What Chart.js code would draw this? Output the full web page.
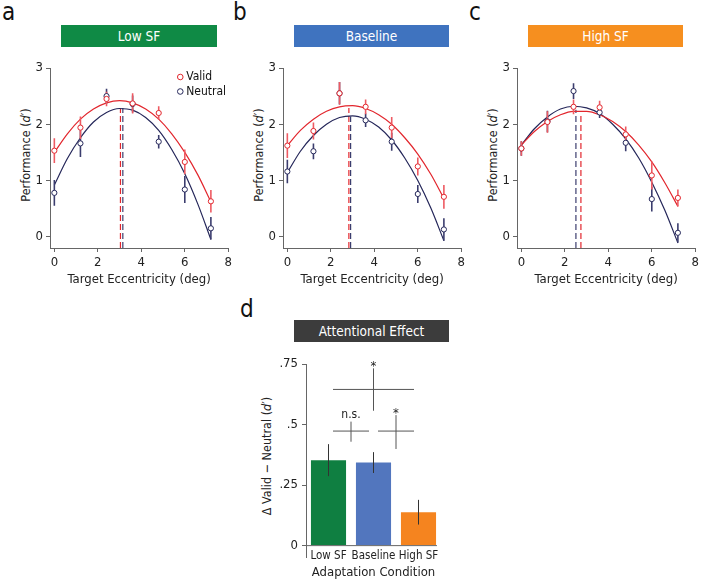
<!DOCTYPE html>
<html><head><meta charset="utf-8">
<script src="https://cdn.jsdelivr.net/npm/chart.js@4.4.1/dist/chart.umd.min.js"></script>
<style>
html,body{margin:0;padding:0;background:#fff;}
body{width:702px;height:580px;position:relative;overflow:hidden;font-family:'DejaVu Sans Condensed','DejaVu Sans',sans-serif;color:#222;}
canvas{position:absolute;}
.letter{position:absolute;font-size:24px;line-height:24px;color:#111;}
.hdr{position:absolute;height:22px;line-height:22px;color:#fff;text-align:center;font-size:13.5px;}
.ytitle{position:absolute;white-space:nowrap;font-size:12.5px;color:#222;transform:translate(-50%,-50%) rotate(-90deg);}
</style></head><body>
<div class="letter" style="left:2px;top:0px;">a</div>
<div class="letter" style="left:233px;top:0px;">b</div>
<div class="letter" style="left:469px;top:0px;">c</div>
<div class="letter" style="left:240px;top:297px;">d</div>
<div class="hdr" style="left:61px;top:25px;width:156px;background:#0f8a45;">Low SF</div>
<div class="hdr" style="left:294px;top:25px;width:155px;background:#3f73bf;">Baseline</div>
<div class="hdr" style="left:528px;top:25px;width:155px;background:#f68f1f;">High SF</div>
<div class="hdr" style="left:294px;top:320px;width:155px;background:#3c3c3c;">Attentional Effect</div>
<div class="ytitle" style="left:25px;top:155px;">Performance (<i>d</i>′)</div>
<div class="ytitle" style="left:258px;top:155px;">Performance (<i>d</i>′)</div>
<div class="ytitle" style="left:492px;top:155px;">Performance (<i>d</i>′)</div>
<div class="ytitle" style="left:266px;top:456px;">Δ Valid − Neutral (<i>d</i>′)</div>
<canvas id="ca" width="235" height="236" style="left:0px;top:55px;"></canvas>
<canvas id="cb" width="235" height="236" style="left:233px;top:55px;"></canvas>
<canvas id="cc" width="235" height="236" style="left:467px;top:55px;"></canvas>
<canvas id="cd" width="210" height="230" style="left:240px;top:350px;"></canvas>
<script>
// ---------- DATA ----------
const ECC = [0, 1.2, 2.4, 3.6, 4.8, 6, 7.2];
const FIT_X = [0, 0.6, 1.2, 1.8, 2.4, 3.0, 3.6, 4.2, 4.8, 5.4, 6.0, 6.6, 7.2];
const X_TICKS = [0, 2, 4, 6, 8];
const Y_TICKS = [0, 1, 2, 3];
const SERIES = ['Valid', 'Neutral'];

// Panel a: Low SF
const lowValid      = [1.53, 1.94, 2.45, 2.37, 2.20, 1.33, 0.63];
const lowValidErr   = [0.22, 0.20, 0.13, 0.18, 0.12, 0.22, 0.20];
const lowNeutral    = [0.78, 1.66, 2.50, 2.36, 1.69, 0.84, 0.15];
const lowNeutralErr = [0.23, 0.24, 0.13, 0.15, 0.12, 0.24, 0.20];
const lowValidFit   = [1.50, 1.83, 2.09, 2.27, 2.38, 2.42, 2.38, 2.27, 2.09, 1.83, 1.50, 1.10, 0.62];
const lowNeutralFit = [0.92, 1.39, 1.76, 2.04, 2.21, 2.28, 2.25, 2.12, 1.89, 1.55, 1.12, 0.58, -0.05];
const lowPeakX = [3.04, 3.15];
const lowPeakY = [2.27, 2.29];

// Panel b: Baseline
const baseValid      = [1.62, 1.88, 2.55, 2.31, 1.94, 1.25, 0.71];
const baseValidErr   = [0.22, 0.15, 0.20, 0.13, 0.19, 0.16, 0.21];
const baseNeutral    = [1.16, 1.52, 2.55, 2.07, 1.69, 0.76, 0.13];
const baseNeutralErr = [0.21, 0.14, 0.20, 0.12, 0.16, 0.16, 0.20];
const baseValidFit   = [1.62, 1.89, 2.09, 2.23, 2.31, 2.33, 2.28, 2.17, 2.00, 1.76, 1.47, 1.11, 0.68];
const baseNeutralFit = [1.14, 1.52, 1.80, 2.00, 2.12, 2.15, 2.09, 1.95, 1.72, 1.40, 1.00, 0.51, -0.07];
const basePeakX = [2.83, 2.91];
const basePeakY = [2.29, 2.14];

// Panel c: High SF
const highValid      = [1.57, 2.04, 2.31, 2.30, 1.82, 1.09, 0.69];
const highValidErr   = [0.13, 0.19, 0.13, 0.12, 0.14, 0.25, 0.15];
const highNeutral    = [1.57, 2.05, 2.59, 2.21, 1.67, 0.67, 0.07];
const highNeutralErr = [0.13, 0.19, 0.14, 0.10, 0.15, 0.22, 0.17];
const highValidFit   = [1.63, 1.87, 2.05, 2.17, 2.23, 2.23, 2.17, 2.05, 1.87, 1.63, 1.33, 0.96, 0.54];
const highNeutralFit = [1.63, 1.92, 2.13, 2.27, 2.32, 2.29, 2.19, 2.00, 1.74, 1.40, 0.97, 0.47, -0.11];
const highPeakX = [2.74, 2.51];
const highPeakY = [2.20, 2.26];

// Panel d: Attentional effect
const conditions = ['Low SF', 'Baseline', 'High SF'];
const condIndex  = [0, 1, 2];
const effect     = [0.353, 0.343, 0.138];
const effectErr  = [0.066, 0.043, 0.051];
const D_Y_TICKS  = [0, 0.25, 0.5, 0.75];
const D_Y_LABELS = ['0', '.25', '.5', '.75'];
const sigFrom  = [0.1, 1.1, 0.1];
const sigTo    = [0.9, 1.9, 1.9];
const sigMid   = [0.5, 1.5, 1.0];
const sigLevel = [0.473, 0.473, 0.645];
const sigLo    = [0.429, 0.399, 0.557];
const sigHi    = [0.512, 0.539, 0.732];
const sigLabel = ['n.s.', '*', '*'];
const zeroLineX = [-0.5, 2.41];

// ---------- STYLE ----------
const FONT = "'DejaVu Sans Condensed','DejaVu Sans',sans-serif";
const RED = '#e2262d', NAVY = '#25275a', RED_ERR = '#ee5a62', NAVY_ERR = '#3b3d6e', AXIS = '#666';
const BAR_COLORS = ['#0f7f41', '#5276be', '#f5841f'];

Chart.defaults.font.family = FONT;
Chart.defaults.color = '#222';
Chart.defaults.animation = false;
Chart.defaults.plugins.legend.display = false;
Chart.defaults.plugins.tooltip.enabled = false;

function xy(xs, ys) { return xs.map((x, i) => ({x: x, y: ys[i]})); }
function errSegments(xs, vals, errs) {
  const out = [];
  xs.forEach((x, i) => { out.push({x: x, y: vals[i] - errs[i]}, {x: x, y: vals[i] + errs[i]}, {x: x, y: null}); });
  return out;
}
function vSegments(xs, lo, hi) {
  const out = [];
  xs.forEach((x, i) => { out.push({x: x, y: lo[i]}, {x: x, y: hi[i]}, {x: x, y: null}); });
  return out;
}
function hSegments(from, to, ys) {
  const out = [];
  ys.forEach((y, i) => { out.push({x: from[i], y: y}, {x: to[i], y: y}, {x: to[i], y: null}); });
  return out;
}

const Y_MIN = -0.2;

const legendPlugin = {
  id: 'innerLegend',
  afterDatasetsDraw(chart) {
    const ctx = chart.ctx, a = chart.chartArea;
    const cols = [RED, NAVY];
    ctx.save();
    ctx.font = '12px ' + FONT;
    ctx.textBaseline = 'middle';
    SERIES.forEach((t, i) => {
      const cx = a.right - 48, cy = a.top + 9 + i * 14.5;
      ctx.beginPath(); ctx.arc(cx, cy, 2.8, 0, Math.PI * 2);
      ctx.strokeStyle = cols[i]; ctx.lineWidth = 1; ctx.stroke();
      ctx.fillStyle = '#111'; ctx.fillText(t, cx + 6, cy);
    });
    ctx.restore();
  }
};

function axisCommon() {
  return {
    grid: {display: true, drawOnChartArea: false, drawTicks: true, tickLength: 4, color: AXIS},
    border: {display: true, color: AXIS, width: 1}
  };
}

function curvePanel(id, d, withLegend) {
  const ptStyle = (c) => ({showLine: false, pointRadius: 2.6, pointBorderColor: c, pointBackgroundColor: '#fff', pointBorderWidth: 1, borderColor: c, order: 0});
  const datasets = [
    Object.assign({data: xy(ECC, d.valid)}, ptStyle(RED)),
    Object.assign({data: xy(ECC, d.neutral)}, ptStyle(NAVY)),
    {data: errSegments(ECC, d.valid, d.validErr), borderColor: RED_ERR, borderWidth: 1.6, pointRadius: 0, spanGaps: false, order: 1},
    {data: errSegments(ECC, d.neutral, d.neutralErr), borderColor: NAVY_ERR, borderWidth: 1.6, pointRadius: 0, spanGaps: false, order: 1},
    {data: xy(FIT_X, d.validFit), borderColor: RED, borderWidth: 1.2, pointRadius: 0, cubicInterpolationMode: 'monotone', order: 2},
    {data: xy(FIT_X, d.neutralFit), borderColor: NAVY, borderWidth: 1.2, pointRadius: 0, cubicInterpolationMode: 'monotone', order: 2},
    {data: [{x: d.peakX[0], y: Y_MIN}, {x: d.peakX[0], y: d.peakY[0]}], borderColor: RED, borderDash: [6, 3], borderWidth: 1.2, pointRadius: 0, order: 3},
    {data: [{x: d.peakX[1], y: Y_MIN}, {x: d.peakX[1], y: d.peakY[1]}], borderColor: NAVY_ERR, borderDash: [6, 3], borderWidth: 1.2, pointRadius: 0, order: 3}
  ];
  new Chart(document.getElementById(id), {
    type: 'line',
    data: {datasets: datasets},
    plugins: withLegend ? [legendPlugin] : [],
    options: {
      responsive: false, devicePixelRatio: 1,
      layout: {padding: {top: 13, right: 6, left: 0, bottom: 0}},
      elements: {line: {fill: false}},
      scales: {
        x: Object.assign(axisCommon(), {
          type: 'linear', min: -0.2, max: 8,
          afterBuildTicks: s => { s.ticks = X_TICKS.map(v => ({value: v})); },
          afterFit: s => { s.height = 43; },
          ticks: {font: {size: 13}, padding: 3, color: '#222', maxRotation: 0, autoSkip: false},
          title: {display: true, text: 'Target Eccentricity (deg)', font: {size: 13}, color: '#222', padding: {top: 0, bottom: 4}}
        }),
        y: Object.assign(axisCommon(), {
          type: 'linear', min: Y_MIN, max: 3,
          afterBuildTicks: s => { s.ticks = Y_TICKS.map(v => ({value: v})); },
          afterFit: s => { s.width = 50; },
          ticks: {font: {size: 13}, padding: 3, color: '#222'}
        })
      }
    }
  });
}

curvePanel('ca', {valid: lowValid, validErr: lowValidErr, neutral: lowNeutral, neutralErr: lowNeutralErr,
  validFit: lowValidFit, neutralFit: lowNeutralFit, peakX: lowPeakX, peakY: lowPeakY}, true);
curvePanel('cb', {valid: baseValid, validErr: baseValidErr, neutral: baseNeutral, neutralErr: baseNeutralErr,
  validFit: baseValidFit, neutralFit: baseNeutralFit, peakX: basePeakX, peakY: basePeakY}, false);
curvePanel('cc', {valid: highValid, validErr: highValidErr, neutral: highNeutral, neutralErr: highNeutralErr,
  validFit: highValidFit, neutralFit: highNeutralFit, peakX: highPeakX, peakY: highPeakY}, false);

const sigPlugin = {
  id: 'sigLabels',
  afterDatasetsDraw(chart) {
    const x = chart.scales.x, y = chart.scales.y, ctx = chart.ctx;
    ctx.save();
    ctx.textAlign = 'center';
    ctx.textBaseline = 'alphabetic';
    ctx.fillStyle = '#222';
    sigLabel.forEach((t, i) => {
      const px = x.getPixelForValue(sigMid[i]);
      const top = y.getPixelForValue(sigHi[i]);
      const star = t === '*';
      ctx.font = (star ? '13px ' : '12px ') + FONT;
      ctx.fillText(t, px, star ? top + 2 : top - 4);
    });
    ctx.restore();
  }
};

new Chart(document.getElementById('cd'), {
  type: 'bar',
  data: {
    datasets: [
      {type: 'bar', data: xy(condIndex, effect), backgroundColor: BAR_COLORS, barPercentage: 0.78, categoryPercentage: 1, order: 4},
      {type: 'line', data: xy(zeroLineX, [0, 0]), borderColor: AXIS, borderWidth: 1, pointRadius: 0, order: 3},
      {type: 'line', data: errSegments(condIndex, effect, effectErr), borderColor: '#333', borderWidth: 1, pointRadius: 0, spanGaps: false, order: 1},
      {type: 'line', data: hSegments(sigFrom, sigTo, sigLevel), borderColor: '#555', borderWidth: 1, pointRadius: 0, spanGaps: false, order: 1},
      {type: 'line', data: vSegments(sigMid, sigLo, sigHi), borderColor: '#555', borderWidth: 1, pointRadius: 0, spanGaps: false, order: 1}
    ]
  },
  plugins: [sigPlugin],
  options: {
    responsive: false, devicePixelRatio: 1,
    layout: {padding: {top: 14, right: 9, left: 0, bottom: 0}},
    scales: {
      x: {
        type: 'linear', min: -0.5, max: 2.5, offset: false,
        afterBuildTicks: s => { s.ticks = condIndex.map(v => ({value: v})); },
        grid: {display: false, drawTicks: false}, border: {display: false},
        afterFit: s => { s.height = 23; s._computeLabelArea = () => undefined; },
        ticks: {font: {size: 11.5}, padding: -8, color: '#222', maxRotation: 0, autoSkip: false,
                callback: (v, i) => conditions[i]},
        title: {display: true, text: 'Adaptation Condition', font: {size: 13}, color: '#222', padding: {top: 0, bottom: 0}}
      },
      y: Object.assign(axisCommon(), {
        type: 'linear', min: -0.047, max: 0.75,
        afterBuildTicks: s => { s.ticks = D_Y_TICKS.map(v => ({value: v})); },
        afterFit: s => { s.width = 66; },
        ticks: {font: {size: 13}, padding: 4, color: '#222', callback: (v, i) => D_Y_LABELS[i]}
      })
    }
  }
});
</script>
</body></html>
